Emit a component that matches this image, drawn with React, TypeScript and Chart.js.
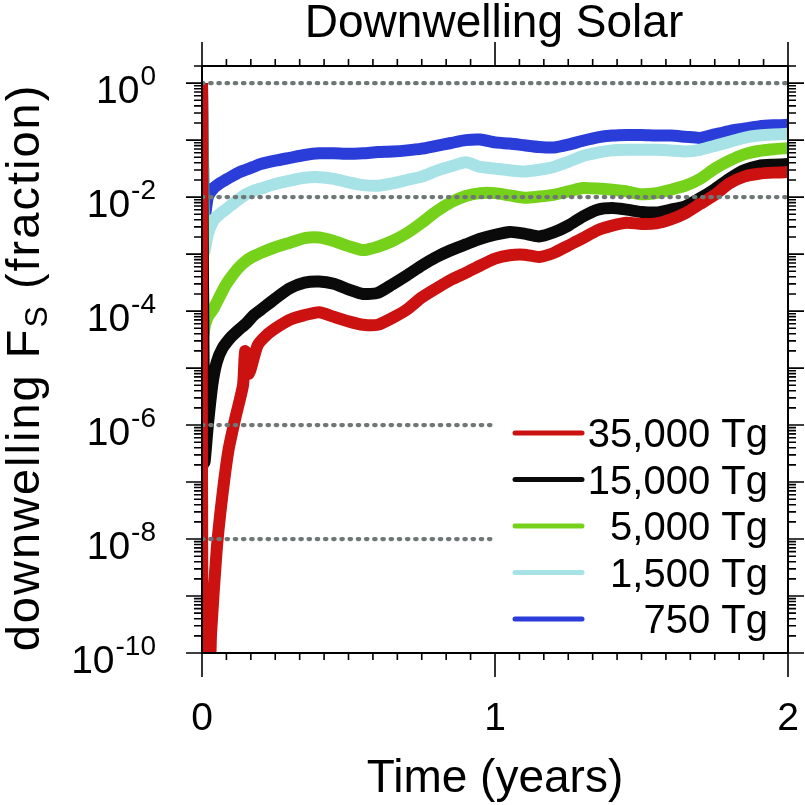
import { useEffect, useRef } from "react";
import { Chart, registerables } from "chart.js";
Chart.register(...registerables);

const FONT = '"Liberation Sans", Arial, Helvetica, sans-serif';

// ---- data (values as log10 exponents) ----
const seriesLabels = ["35,000 Tg", "15,000 Tg", "5,000 Tg", "1,500 Tg", "750 Tg"];
const seriesColors = ["#cc1111", "#0a0a0a", "#76d11b", "#a6e2e6", "#2a3dd8"];

const tRed = [0, 0.002, 0.025, 0.031, 0.05, 0.068, 0.09, 0.115, 0.14, 0.147, 0.16, 0.19, 0.225, 0.26,
  0.3, 0.35, 0.4, 0.45, 0.5, 0.55, 0.6, 0.65, 0.7, 0.75, 0.8, 0.85, 0.9, 0.95, 1.0, 1.05, 1.1, 1.15, 1.2,
  1.25, 1.3, 1.35, 1.4, 1.45, 1.5, 1.55, 1.6, 1.65, 1.7, 1.75, 1.8, 1.85, 1.9, 1.95, 2.0];
const expRed = [0, -11, -10.5, -9.65, -8.2, -7.3, -6.45, -5.85, -5.3, -4.7, -5.1, -4.6, -4.4, -4.27,
  -4.15, -4.07, -4.02, -4.1, -4.18, -4.24, -4.24, -4.12, -3.97, -3.76, -3.6, -3.45, -3.33, -3.2, -3.08,
  -3.02, -3.01, -3.05, -2.98, -2.85, -2.72, -2.58, -2.5, -2.45, -2.47, -2.46, -2.39, -2.28, -2.12, -1.96,
  -1.76, -1.64, -1.59, -1.57, -1.56];

const tBlack = [0, 0.008, 0.02, 0.035, 0.05, 0.07, 0.1, 0.125, 0.15, 0.175, 0.2, 0.25,
  0.3, 0.35, 0.4, 0.45, 0.5, 0.55, 0.6, 0.65, 0.7, 0.75, 0.8, 0.85, 0.9, 0.95, 1.0, 1.05, 1.1, 1.15, 1.2,
  1.25, 1.3, 1.35, 1.4, 1.45, 1.5, 1.55, 1.6, 1.65, 1.7, 1.75, 1.8, 1.85, 1.9, 1.95, 2.0];
const expBlack = [0, -6.65, -6.0, -5.3, -4.9, -4.65, -4.45, -4.33, -4.22, -4.08, -3.98, -3.78,
  -3.6, -3.5, -3.48, -3.52, -3.62, -3.7, -3.68, -3.53, -3.37, -3.2, -3.05, -2.93, -2.83, -2.73, -2.66,
  -2.61, -2.64, -2.69, -2.62, -2.5, -2.34, -2.22, -2.19, -2.22, -2.26, -2.27, -2.22, -2.16, -2.02, -1.86,
  -1.68, -1.53, -1.45, -1.43, -1.42];

const tGreen = [0, 0.005, 0.01, 0.02, 0.04, 0.06, 0.08, 0.1, 0.125, 0.15, 0.175, 0.2, 0.25,
  0.3, 0.35, 0.4, 0.45, 0.5, 0.55, 0.6, 0.65, 0.7, 0.75, 0.8, 0.85, 0.9, 0.95, 1.0, 1.05, 1.1, 1.15, 1.2,
  1.25, 1.3, 1.35, 1.4, 1.45, 1.5, 1.55, 1.6, 1.65, 1.7, 1.75, 1.8, 1.85, 1.9, 1.95, 2.0];
const expGreen = [0, -4.4, -4.25, -4.1, -3.95, -3.75, -3.55, -3.4, -3.24, -3.12, -3.04, -2.98, -2.88,
  -2.8, -2.72, -2.71, -2.77, -2.86, -2.93, -2.87, -2.77, -2.63, -2.45, -2.25, -2.09, -1.98, -1.93, -1.93,
  -1.97, -2.01, -1.99, -1.96, -1.9, -1.84, -1.85, -1.87, -1.9, -1.95, -1.93, -1.87, -1.8, -1.68, -1.5,
  -1.36, -1.25, -1.19, -1.16, -1.14];

const tLight = [0, 0.008, 0.02, 0.04, 0.06, 0.08, 0.1, 0.125, 0.15, 0.175, 0.2, 0.25,
  0.3, 0.35, 0.4, 0.45, 0.5, 0.55, 0.6, 0.65, 0.7, 0.75, 0.8, 0.85, 0.9, 0.95, 1.0, 1.05, 1.1, 1.15, 1.2,
  1.25, 1.3, 1.35, 1.4, 1.45, 1.5, 1.55, 1.6, 1.65, 1.7, 1.75, 1.8, 1.85, 1.9, 1.95, 2.0];
const expLight = [0, -2.95, -2.65, -2.4, -2.3, -2.22, -2.14, -2.04, -1.95, -1.89, -1.85, -1.77,
  -1.71, -1.66, -1.65, -1.68, -1.74, -1.79, -1.8, -1.76, -1.7, -1.64, -1.54, -1.46, -1.39, -1.47, -1.5,
  -1.53, -1.55, -1.52, -1.47, -1.38, -1.28, -1.22, -1.18, -1.17, -1.17, -1.17, -1.18, -1.2, -1.17, -1.1,
  -1.03, -0.96, -0.92, -0.9, -0.89];

const tBlue = [0, 0.008, 0.02, 0.04, 0.06, 0.08, 0.1, 0.125, 0.15, 0.175, 0.2, 0.25,
  0.3, 0.35, 0.4, 0.45, 0.5, 0.55, 0.6, 0.65, 0.7, 0.75, 0.8, 0.85, 0.9, 0.95, 1.0, 1.05, 1.1, 1.15, 1.2,
  1.25, 1.3, 1.35, 1.4, 1.45, 1.5, 1.55, 1.6, 1.65, 1.7, 1.75, 1.8, 1.85, 1.9, 1.95, 2.0];
const expBlue = [0, -2.4, -2.0, -1.84, -1.76, -1.7, -1.64, -1.57, -1.52, -1.47, -1.42, -1.36,
  -1.31, -1.26, -1.23, -1.23, -1.24, -1.23, -1.21, -1.2, -1.18, -1.15, -1.1, -1.05, -1.0, -0.99, -1.04,
  -1.06, -1.09, -1.12, -1.13, -1.08, -1.01, -0.95, -0.92, -0.91, -0.91, -0.92, -0.92, -0.94, -0.96, -0.9,
  -0.84, -0.8, -0.76, -0.74, -0.73];

const refLevels = [1, 1e-2, 1e-6, 1e-8];
const refEnds = [2, 2, 1.0, 1.0];

const yLabelExps = [0, -2, -4, -6, -8, -10];
const xTickLabels = ["0", "1", "2"];
const X_MIN = 0, X_MAX = 2, Y_MIN = 1e-10, Y_MAX = 2;

const pts = (t: number[], e: number[]) => t.map((x, i) => ({ x, y: Math.pow(10, e[i]) }));

const nclPlugin = {
  id: "nclDecor",
  afterDraw(chart: any) {
    const ctx: any = chart.ctx;
    const xs = chart.scales.x;
    const ys = chart.scales.y;
    const { left, right, top, bottom } = chart.chartArea;
    ctx.save();
    ctx.strokeStyle = "#000";
    ctx.fillStyle = "#000";
    // frame
    ctx.lineWidth = 2;
    ctx.strokeRect(left, top, right - left, bottom - top);
    ctx.lineWidth = 1.6;
    // x ticks (bottom & top)
    for (let k = 0; k <= 24; k++) {
      const v = k / 12;
      const px = xs.getPixelForValue(v);
      const major = k % 12 === 0;
      const len = major ? 24 : 7;
      ctx.beginPath();
      ctx.moveTo(px, bottom);
      ctx.lineTo(px, bottom + len);
      ctx.moveTo(px, top);
      ctx.lineTo(px, top - len);
      ctx.stroke();
    }
    // y ticks (left & right)
    for (let n = -10; n <= 0; n++) {
      for (let m = 1; m <= 9; m++) {
        const v = m * Math.pow(10, n);
        if (v > Y_MAX + 1e-9) continue;
        const py = ys.getPixelForValue(v);
        const len = m === 1 ? 16 : 8;
        ctx.beginPath();
        ctx.moveTo(left, py);
        ctx.lineTo(left - len, py);
        ctx.moveTo(right, py);
        ctx.lineTo(right + len, py);
        ctx.stroke();
      }
    }
    // y tick labels 10^n
    for (const e of yLabelExps) {
      const py = ys.getPixelForValue(Math.pow(10, e));
      const xr = 156;
      ctx.font = `28px ${FONT}`;
      ctx.textAlign = "right";
      ctx.textBaseline = "alphabetic";
      const sup = String(e);
      const sw = ctx.measureText(sup).width;
      ctx.fillText(sup, xr, py + 2);
      ctx.font = `39px ${FONT}`;
      ctx.fillText("10", xr - sw - 1, py + 20);
    }
    // x tick labels
    ctx.font = `39px ${FONT}`;
    ctx.textAlign = "center";
    xTickLabels.forEach((lab, i) => {
      ctx.fillText(lab, xs.getPixelForValue(i), 730);
    });
    // title
    ctx.font = `46px ${FONT}`;
    ctx.fillText("Downwelling Solar", (left + right) / 2 - 1, 37);
    // x label
    ctx.fillText("Time (years)", (left + right) / 2, 792);
    // y label rotated with subscript
    ctx.save();
    ctx.translate(39, (top + bottom) / 2 + 8);
    ctx.rotate(-Math.PI / 2);
    ctx.textAlign = "left";
    ctx.letterSpacing = "2px";
    const big = `47px ${FONT}`;
    const small = `32px ${FONT}`;
    const p1 = "downwelling F";
    const p2 = "S";
    const p3 = " (fraction)";
    ctx.font = big;
    const w1 = ctx.measureText(p1).width;
    const w3 = ctx.measureText(p3).width;
    ctx.font = small;
    const w2 = ctx.measureText(p2).width;
    let x0 = -(w1 + w2 + w3) / 2;
    ctx.font = big;
    ctx.fillText(p1, x0, 0);
    x0 += w1;
    ctx.font = small;
    ctx.fillText(p2, x0, 8);
    x0 += w2;
    ctx.font = big;
    ctx.fillText(p3, x0, 0);
    ctx.restore();
    // legend
    const legY0 = 433;
    const legDy = 46.5;
    seriesLabels.forEach((lab, i) => {
      const y = legY0 + i * legDy;
      ctx.strokeStyle = seriesColors[i];
      ctx.lineWidth = 5;
      ctx.lineCap = "round";
      ctx.beginPath();
      ctx.moveTo(515, y);
      ctx.lineTo(582, y);
      ctx.stroke();
      ctx.fillStyle = "#000";
      ctx.font = `40px ${FONT}`;
      ctx.textAlign = "right";
      ctx.fillText(lab, 768, y + 14);
    });
    ctx.restore();
  },
};

export default function App() {
  const ref = useRef<HTMLCanvasElement | null>(null);
  useEffect(() => {
    const series = [
      pts(tRed, expRed),
      pts(tBlack, expBlack),
      pts(tGreen, expGreen),
      pts(tLight, expLight),
      pts(tBlue, expBlue),
    ];
    const refSets = refLevels.map((lv, i) => ({
      label: "ref" + i,
      data: [{ x: 0, y: lv }, { x: refEnds[i], y: lv }],
      borderColor: "#6f7676",
      borderWidth: 4.3,
      borderDash: [1.4, 6.8],
      borderCapStyle: "round" as const,
      pointRadius: 0,
      fill: false,
      order: 0,
    }));
    const dataSets = series.map((d, i) => ({
      label: seriesLabels[i],
      data: d,
      borderColor: seriesColors[i],
      borderWidth: 12,
      borderJoinStyle: "round" as const,
      pointRadius: 0,
      fill: false,
      tension: 0.2,
      order: 1,
    }));
    const chart = new Chart(ref.current as HTMLCanvasElement, {
      type: "line",
      data: { datasets: [...refSets, ...dataSets] as any },
      options: {
        animation: false,
        responsive: false,
        devicePixelRatio: 1,
        parsing: false,
        layout: { padding: { left: 202, top: 66, right: 17, bottom: 152 } },
        scales: {
          x: { type: "linear", min: X_MIN, max: X_MAX, display: false },
          y: { type: "logarithmic", min: Y_MIN, max: Y_MAX, display: false },
        },
        plugins: { legend: { display: false }, tooltip: { enabled: false } },
      },
      plugins: [nclPlugin],
    });
    return () => chart.destroy();
  }, []);
  return (
    <div style={{ position: "absolute", left: 0, top: 0, width: 805, height: 805, background: "#fff" }}>
      <canvas ref={ref} width={805} height={805} style={{ display: "block" }} />
    </div>
  );
}
